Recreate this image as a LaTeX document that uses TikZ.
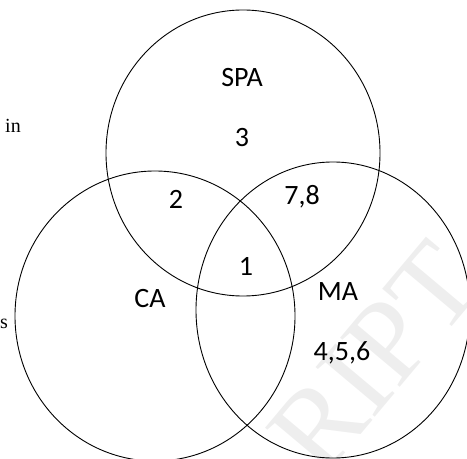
\documentclass[tikz,border=0pt]{standalone}
\usepackage{fontspec}
\setmainfont{Carlito}
\newfontfamily\timesfont{Liberation Serif}
\usepackage{xcolor}
\usepackage{tikz}

\begin{document}
\begin{tikzpicture}[x=1bp, y=-1bp,
    lab/.style = {font=\fontsize{28bp}{30bp}\selectfont, inner sep=0pt},
    cut/.style = {font=\timesfont\fontsize{20bp}{22bp}\selectfont, inner sep=0pt},
    ring/.style = {draw, line width=0.9bp}]
    \useasboundingbox (0, 0) rectangle (467, 459);
    \clip (0, 0) rectangle (467, 459);
    % watermark
    \node[rotate=50, anchor=base west, inner sep=0pt, text=gray!13,
      font=\timesfont\fontsize{118bp}{118bp}\selectfont] (W) at (322, 481) {RIPT};
    % the three sets
    {
      \draw[ring] (243, 153) ellipse [x radius=137bp, y radius=143bp];
      \draw[ring] (155, 316) ellipse [x radius=140bp, y radius=145bp];
      \draw[ring] (333, 310) ellipse [x radius=137bp, y radius=148bp];
    }
    \node[lab] (spa) at (242, 78) {SPA};
    \node[lab] (three) at (242, 138) {3};
    \node[lab] (two) at (176, 199) {2};
    \node[lab] (seven) at (302, 197) {7,8};
    \node[lab] (one) at (246, 266) {1};
    \node[lab] (ca) at (150, 299) {CA};
    \node[lab] (ma) at (338, 292) {MA};
    \node[lab] (four) at (342, 353) {4,5,6};
    % cut-off text at the left edge
    \node[cut, anchor=base west] (in) at (5, 133) {in};
    \node[cut, anchor=base west] (s) at (0, 328) {s};
\end{tikzpicture}
\end{document}
